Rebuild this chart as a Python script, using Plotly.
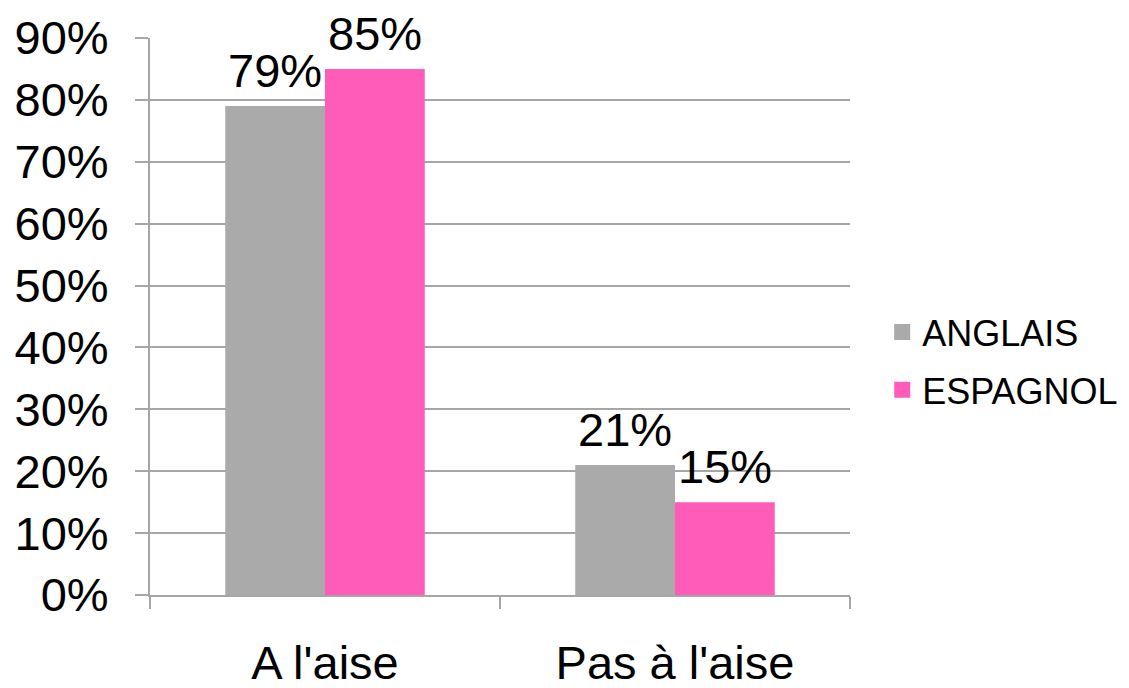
import plotly.graph_objects as go

categories = ["A l'aise", "Pas à l'aise"]
anglais = [0.79, 0.21]
espagnol = [0.85, 0.15]
series_names = ["ANGLAIS", "ESPAGNOL"]
colors = ["#AAAAAA", "#FF5CBA"]

FONT = "Liberation Sans, Arial, sans-serif"
FS = 47

fig = go.Figure()
for i, (name, vals) in enumerate(zip(series_names, [anglais, espagnol])):
    fig.add_trace(go.Bar(
        x=categories, y=vals, name=name, showlegend=False,
        marker=dict(color=colors[i], line=dict(width=0)),
        offsetgroup=str(i),
    ))
    # legend proxy with larger square marker
    fig.add_trace(go.Scatter(
        x=[None], y=[None], mode="markers", name=name,
        legendgroup=name,
        marker=dict(symbol="square", size=19, color=colors[i]),
    ))

# data labels placed above bars via annotations (data coordinates)
for ci, cat in enumerate(categories):
    for si, vals in enumerate([anglais, espagnol]):
        fig.add_annotation(
            x=cat, y=vals[ci], text=f"{vals[ci]:.0%}",
            xref="x", yref="y", showarrow=False,
            xshift=(-50 if si == 0 else 50), yanchor="bottom", yshift=7,
            font=dict(size=FS, family=FONT, color="black"),
        )

# page body has an 8px default margin; figure is sized to fit the window
fig.update_layout(
    width=1121, height=680,
    margin=dict(l=142, r=279, t=30, b=93, autoexpand=False),
    paper_bgcolor="white", plot_bgcolor="white",
    barmode="group", bargap=0.43, bargroupgap=0,
    font=dict(family=FONT, color="black"),
    showlegend=True,
    legend=dict(
        x=1.046, y=0.42, xanchor="left", yanchor="middle",
        font=dict(size=36, family=FONT, color="black"),
        itemsizing="trace", tracegroupgap=8, itemwidth=30,
        bgcolor="rgba(0,0,0,0)",
    ),
)
fig.update_yaxes(
    range=[0, 0.9], dtick=0.1, tickformat=".0%",
    showgrid=True, gridcolor="#A6A6A6", gridwidth=2,
    showline=True, linecolor="#A6A6A6", linewidth=2,
    ticks="outside", ticklen=13, tickcolor="#A6A6A6", tickwidth=2,
    ticklabelstandoff=17, automargin=False,
    tickfont=dict(size=FS, family=FONT, color="black"),
    zeroline=False,
)
fig.update_xaxes(
    showline=True, linecolor="#A6A6A6", linewidth=2,
    ticks="outside", tickson="boundaries", ticklen=12,
    tickcolor="#A6A6A6", tickwidth=2,
    ticklabelstandoff=26, automargin=False,
    tickfont=dict(size=FS, family=FONT, color="black"),
)

fig.write_html("out.html")
